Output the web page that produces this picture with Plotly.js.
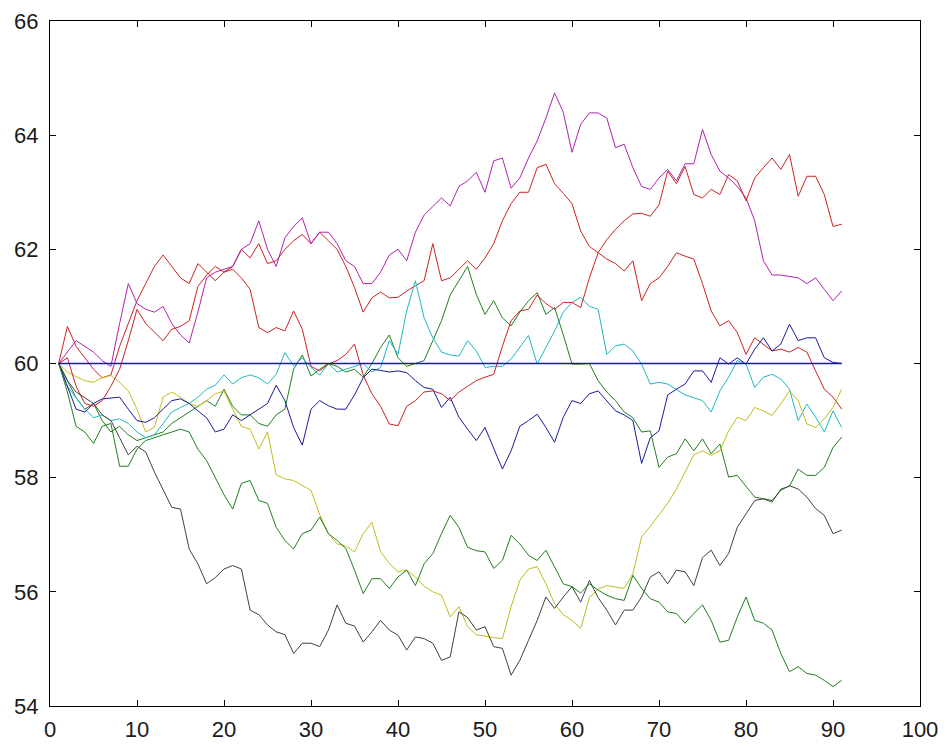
<!DOCTYPE html>
<html>
<head>
<meta charset="utf-8">
<script src="https://cdn.plot.ly/plotly-3.0.1.min.js"></script>
<style>
html,body{margin:0;padding:0;background:#fff;}
#chart{width:947px;height:747px;}
</style>
</head>
<body>
<div id="chart"></div>
<script>
// x positions are the sample indices 1..91
const steps = 91;

const magentaSeries = [60.0,60.2,60.4,60.3,60.2,60.05,59.95,60.7,61.4,61.05,60.95,60.9,61.0,60.7,60.5,60.36,60.9,61.5,61.6,61.65,61.7,62.0,62.1,62.5,62.0,61.7,62.2,62.4,62.55,62.1,62.3,62.3,62.1,61.8,61.7,61.4,61.4,61.6,61.9,62.0,61.8,62.3,62.6,62.75,62.9,62.76,63.1,63.2,63.35,63.0,63.55,63.6,63.07,63.25,63.6,63.9,64.3,64.74,64.4,63.7,64.19,64.39,64.39,64.3,63.78,63.84,63.43,63.1,63.05,63.25,63.4,63.2,63.5,63.5,64.1,63.66,63.37,63.25,63.1,62.9,62.5,61.8,61.55,61.55,61.52,61.5,61.4,61.5,61.3,61.1,61.27];

const redASeries = [60.0,60.65,60.3,60.1,59.9,59.75,59.8,60.3,60.7,61.1,61.4,61.7,61.9,61.7,61.5,61.4,61.75,61.6,61.45,61.6,61.7,62.0,61.85,62.1,61.75,61.8,62.0,62.15,62.26,62.1,62.3,62.15,62.0,61.7,61.33,60.9,61.15,61.25,61.15,61.16,61.27,61.36,61.45,62.1,61.45,61.5,61.65,61.8,61.65,61.85,62.1,62.5,62.8,63.0,63.0,63.43,63.49,63.15,62.98,62.8,62.32,62.05,61.94,61.83,61.75,61.62,61.8,61.1,61.4,61.5,61.7,61.94,61.88,61.83,61.4,60.92,60.66,60.75,60.54,60.16,60.45,60.34,60.22,60.25,60.2,60.28,60.2,59.87,59.55,59.41,59.2];

const redBSeries = [60.0,60.1,59.6,59.3,59.25,59.35,59.6,59.9,60.4,60.95,60.7,60.55,60.4,60.6,60.65,60.75,61.35,61.55,61.7,61.6,61.65,61.5,61.3,60.63,60.54,60.63,60.57,60.92,60.6,59.95,59.87,59.99,60.05,60.16,60.34,59.8,59.47,59.25,58.94,58.91,59.25,59.35,59.5,59.52,59.47,59.35,59.5,59.6,59.7,59.76,59.81,60.3,60.75,60.92,60.95,61.2,61.05,60.95,61.07,61.07,60.98,61.5,61.94,62.17,62.35,62.5,62.62,62.63,62.58,62.78,63.37,63.15,63.45,62.96,62.9,63.05,62.96,63.31,63.2,62.85,63.25,63.43,63.6,63.4,63.66,62.93,63.28,63.28,62.96,62.4,62.44];

const cyanSeries = [60.0,59.6,59.4,59.2,59.05,59.1,59.0,59.03,58.95,58.8,58.7,58.75,58.95,59.15,59.23,59.3,59.41,59.55,59.62,59.8,59.64,59.75,59.8,59.75,59.64,59.81,60.19,59.96,60.1,59.93,59.8,60.0,59.85,59.9,59.95,60.0,59.85,59.93,60.4,60.16,60.92,61.45,60.8,60.45,60.2,60.15,60.13,60.4,60.22,59.93,59.95,59.95,60.08,60.28,60.49,59.99,60.28,60.57,60.9,61.07,61.16,61.0,60.95,60.16,60.31,60.34,60.22,59.99,59.64,59.67,59.64,59.55,59.45,59.4,59.35,59.15,59.52,59.76,60.05,59.99,59.58,59.76,59.81,59.73,59.55,59.0,59.29,59.06,58.8,59.17,58.88];

const navySeries = [60.0,59.6,59.2,59.15,59.3,59.38,59.4,59.41,59.2,59.0,58.97,59.05,59.2,59.35,59.38,59.3,59.17,59.05,58.8,58.85,59.1,59.0,59.1,59.2,59.3,59.62,59.35,58.88,58.57,59.2,59.35,59.26,59.2,59.2,59.45,59.75,59.9,59.88,59.85,59.87,59.84,59.7,59.58,59.55,59.23,59.41,59.06,58.85,58.65,58.88,58.53,58.15,58.47,58.9,59.0,59.11,58.88,58.62,59.06,59.35,59.3,59.47,59.52,59.35,59.17,59.1,59.0,58.25,58.7,58.82,59.45,59.55,59.64,59.87,59.87,59.67,60.1,59.99,60.1,59.99,60.25,60.45,60.22,60.34,60.69,60.4,60.45,60.45,60.1,60.02,60.0];

const greenASeries = [60.0,59.7,59.4,59.2,59.3,59.0,58.8,58.9,58.75,58.65,58.7,58.75,58.8,58.95,59.05,59.15,59.25,59.35,59.25,59.55,59.25,59.1,59.1,58.95,58.9,59.1,59.2,59.9,60.15,59.78,59.9,60.0,59.95,59.85,59.9,59.76,60.0,60.28,60.5,60.1,59.95,60.0,60.05,60.4,60.75,61.2,61.45,61.7,61.21,60.86,61.1,60.8,60.66,60.9,61.1,61.24,60.86,60.98,60.5,59.99,59.99,60.0,59.7,59.5,59.35,59.15,59.05,58.8,58.82,58.18,58.36,58.42,58.68,58.47,58.68,58.42,58.59,58.01,58.04,57.85,57.66,57.63,57.57,57.8,57.85,58.15,58.04,58.04,58.18,58.53,58.71];

const greenBSeries = [60.0,59.5,58.9,58.8,58.6,58.9,58.95,58.2,58.2,58.5,58.65,58.7,58.75,58.8,58.85,58.8,58.5,58.3,58.0,57.7,57.45,57.9,57.95,57.6,57.55,57.13,56.9,56.75,57.02,57.08,57.31,57.02,56.9,56.76,56.38,55.97,56.23,56.23,56.06,56.26,56.38,56.11,56.49,56.67,57.02,57.34,57.13,56.78,56.72,56.7,56.41,56.55,56.99,56.84,56.64,56.55,56.73,56.44,56.14,56.09,55.98,56.14,56.03,55.94,55.88,55.85,56.29,56.06,55.88,55.82,55.65,55.62,55.45,55.62,55.77,55.5,55.12,55.15,55.56,55.91,55.5,55.45,55.33,54.92,54.6,54.69,54.57,54.54,54.45,54.34,54.45];

const yellowSeries = [60.0,59.85,59.77,59.7,59.67,59.75,59.79,59.67,59.52,59.2,58.8,58.88,59.41,59.5,59.41,59.3,59.25,59.35,59.47,59.52,59.2,58.9,58.85,58.5,58.8,58.05,57.98,57.95,57.86,57.78,57.35,57.02,56.84,56.8,56.7,57.02,57.22,56.7,56.5,56.35,56.38,56.26,56.1,56.0,55.94,55.56,55.74,55.39,55.25,55.22,55.2,55.18,55.74,56.2,56.4,56.44,56.14,55.79,55.6,55.5,55.36,55.9,56.05,56.11,56.09,56.06,56.32,56.96,57.15,57.35,57.55,57.8,58.1,58.4,58.47,58.39,58.47,58.82,59.06,59.0,59.23,59.17,59.09,59.29,59.52,59.35,58.94,58.88,59.03,59.23,59.55];

const blackSeries = [60.0,59.7,59.5,59.4,59.3,59.1,59.0,58.7,58.4,58.55,58.45,58.1,57.8,57.48,57.45,56.75,56.49,56.14,56.25,56.4,56.46,56.4,55.68,55.6,55.42,55.3,55.25,54.92,55.1,55.1,55.04,55.33,55.77,55.45,55.4,55.12,55.3,55.5,55.33,55.24,54.98,55.21,55.18,55.1,54.8,54.86,55.65,55.55,55.33,55.39,55.04,55.01,54.54,54.8,55.15,55.5,55.91,55.71,55.91,56.09,55.82,56.2,55.9,55.68,55.42,55.68,55.68,55.91,56.26,56.35,56.14,56.38,56.35,56.11,56.6,56.73,56.46,56.67,57.13,57.37,57.6,57.63,57.6,57.78,57.86,57.8,57.66,57.46,57.34,57.02,57.08];

// the flat reference path at 60 over the same 1..91 span
const flatX = [1, 91];
const flatY = [60, 60];

const xTickVals = [0,10,20,30,40,50,60,70,80,90,100];
const yTickVals = [54,56,58,60,62,64,66];

const xs = [];
for (let i = 1; i <= steps; i++) xs.push(i);

const seriesList = [
  {y: greenASeries, color: '#1f7f1f'},
  {y: redASeries, color: '#cc2222'},
  {y: cyanSeries, color: '#1fb8c0'},
  {y: magentaSeries, color: '#b022b0'},
  {y: yellowSeries, color: '#c4bc1c'},
  {y: blackSeries, color: '#404040'},
  {y: navySeries, color: '#1a1a9a'},
  {y: greenBSeries, color: '#1f7f1f'},
  {y: redBSeries, color: '#cc2222'}
];

const traces = seriesList.map(s => ({
  x: xs, y: s.y, type: 'scatter', mode: 'lines',
  line: {color: s.color, width: 1}, hoverinfo: 'skip'
}));
traces.push({x: flatX, y: flatY, type: 'scatter', mode: 'lines',
  line: {color: '#1a1aa8', width: 1.3}, hoverinfo: 'skip'});

const axisCommon = {
  showgrid: false, zeroline: false, showline: true, mirror: 'ticks',
  linecolor: '#000', linewidth: 1, ticks: 'inside', ticklen: 6,
  tickcolor: '#000', tickwidth: 1,
  tickfont: {family: 'Liberation Sans, Arial, sans-serif', size: 22, color: '#1a1a1a'}
};

const layout = {
  width: 947, height: 747,
  margin: {l: 50, r: 27, t: 21, b: 41, pad: 0},
  paper_bgcolor: '#fff', plot_bgcolor: '#fff',
  showlegend: false,
  xaxis: Object.assign({}, axisCommon, {range: [0, 100], tickvals: xTickVals, ticklabelstandoff: 4}),
  yaxis: Object.assign({}, axisCommon, {range: [54, 66], tickvals: yTickVals, ticklabelstandoff: 6})
};

Plotly.newPlot('chart', traces, layout, {displayModeBar: false, staticPlot: true});
</script>
</body>
</html>
